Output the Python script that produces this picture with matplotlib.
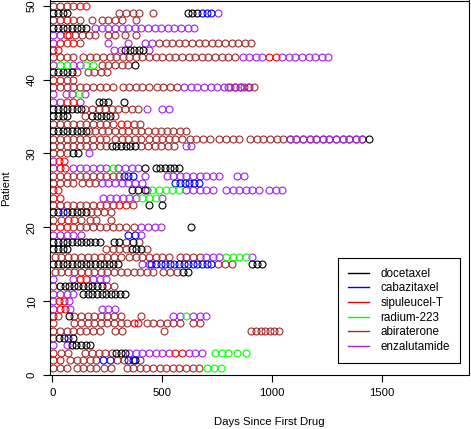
import matplotlib
matplotlib.use("Agg")
import matplotlib.pyplot as plt
from matplotlib.lines import Line2D

# drug names, their one-letter codes used in the visit strings, and colours
drugs = ["docetaxel", "cabazitaxel", "sipuleucel-T", "radium-223", "abiraterone", "enzalutamide"]
codes = ["d", "c", "s", "r", "a", "e"]
colors = ["black", "#0000FF", "#FF0000", "#00FF00", "#A52A2A", "#A020F0"]

# visits per patient (patient 1 first): "start_day:letters", one letter per visit,
# lowercase -> next visit 30 days later, uppercase -> next visit 21 days later
visits = [
    "5:aaa 110:aaaa 235:aa 338:aaaaaaaaaaaa 705:rrr",
    "5:ss 80:aaaaa 232:cc 295:aa 345:CC 375:d 400:a",
    "5:a 40:aa 150:aaaaa 290:DDD 350:eeeeeee 560:ss 620:eee 740:rrr 840:r 880:r",
    "5:e 65:e 88:DDDDD",
    "5:a 30:DDCD",
    "5:aaaaaaaa 285:aa 510:a 905:AAAAAAA",
    "5:a 100:aaaaaaaaa 370:SS 430:aaaaaa 640:aa",
    "5:Sa 75:d 100:aaaaaaaa 405:a 550:ee 610:r 640:eee",
    "5:e 35:SS 80:e 225:eee",
    "5:e 30:SS 75:e",
    "5:eeee 140:DDDDDDDDDD",
    "5:a 35:DDDDDDDDDD 250:aa",
    "5:e 95:e 125:ss 185:eee",
    "10:aaaaaaaaaaaaaaaa 505:aaa 595:DD",
    "5:DDDDDDDDDDDDDDD 410:ee 450:CCCCCCCCCCCCCC 755:aaa 910:DDD",
    "10:aaaaaaaaaaa 350:aaaaaaa 580:aaaa 700:eee 790:rrr 880:re",
    "5:DDDD 245:aaaa 360:DDD 430:a",
    "5:DDDDDDDDDDD 280:DD 335:a 365:d 395:a",
    "5:eeee 130:e 345:cce",
    "5:ass 95:aaaaaaaaa 370:a 405:eeee 630:d",
    "5:a 40:assa 170:aa 265:a",
    "5:DDCDDDDD 175:aaaa",
    "5:aaaaaaaaaa 305:ss 365:a 440:d 500:d",
    "5:ss 230:eeeeee 410:rrr 500:e",
    "5:SS 360:ddd 430:e 455:rrrrr 610:eeeee 790:eeeeee 985:eee",
    "5:aaaa 135:aaa 225:eeeeee 410:e 560:CCCCCC",
    "5:aaaaaaaaaaa 325:CCC 420:e 520:eeeeeeeee 840:ee",
    "5:e 35:SS 95:eeeeee 275:r 300:eeee 420:d 470:DDDDDD",
    "5:e 30:SS",
    "5:aa 65:a 95:DD 165:e",
    "5:aaaaaaaaa 270:DDDDDD 405:aaaaaa 610:EE",
    "5:aaaaaaaaa 285:aaaaa 440:aaaaaa 625:aaaa 760:aaaa 900:aaaaaaaaaaaaaaaaaa 1080:eeeeeeeeeeee 1440:d",
    "5:DDDDDDDD 165:aaaaaaaaaaaa 520:aaaa",
    "5:aaaaaaaaaa 310:ss 370:aa",
    "5:DDDD 150:a 180:DDDDD 285:a",
    "5:DDDDDDD 150:aaaaaaaaa 430:e 500:ee",
    "5:eesse 210:DDD 325:d",
    "5:e 60:eere",
    "5:aaaaaaaaaa 320:aaaaa 475:aaaa 600:eeeeeee 800:eeee 810:AAAAAA",
    "5:ss 65:aa",
    "5:DDDDD 110:a 160:aaaa",
    "5:erreerr 225:aaaaa 375:d",
    "5:aaaa 140:aaaaaaaaaaaaaaaaaaaaaaaa 865:eeee 985:ss 1045:eeeeeeee",
    "5:SS 280:ee 330:DDDDD 440:e",
    "5:esasa 255:e 345:e 420:e 455:e 485:aaaaaaaaaaaaaaa",
    "5:ees 75:aaaaa 255:aa 330:a 380:a",
    "5:DDDDDDDD 195:eeeeeeeeeeeeeeee",
    "5:assaa 180:a 225:aaaa 380:a",
    "5:DDDD 305:aaaa 460:a 615:DDD 680:CCC 755:e",
    "5:aaa 95:ass",
]
MONTH = 30
CYCLE = 21

plt.rcParams['font.family'] = ['Liberation Sans', 'DejaVu Sans']

xs = {c: [] for c in codes}
ys = {c: [] for c in codes}
for patient, row in enumerate(visits, start=1):
    for seg in row.split():
        start, letters = seg.split(":")
        day = float(start)
        for ch in letters:
            xs[ch.lower()].append(day)
            ys[ch.lower()].append(patient)
            day += CYCLE if ch.isupper() else MONTH

fig = plt.figure(figsize=(4.71, 4.29), dpi=100)
ax = fig.add_axes([50 / 471, 54 / 429, 418.5 / 471, 374.5 / 429])

order = ["a", "e", "d", "c", "s", "r"]
for c in order:
    i = codes.index(c)
    ax.plot(xs[c], ys[c], "o", mfc="none", mec=colors[i], ms=5.0, mew=0.8, ls="none")

ax.set_xlim(-10.5, 1892)
ax.set_ylim(0, 50.7)
ax.set_xticks([0, 500, 1000, 1500])
ax.set_yticks([0, 10, 20, 30, 40, 50])
ax.tick_params(direction="out", length=5, width=0.8, labelsize=8.2, pad=4.5)
for lab in ax.get_yticklabels():
    lab.set_rotation(90)
    lab.set_va("center")
for s in ax.spines.values():
    s.set_linewidth(0.8)
    s.set_color("black")

fig.text(269 / 471, 1 - 422 / 429, "Days Since First Drug", ha="center", va="center", fontsize=8.2)
fig.text(6 / 471, 1 - 188 / 429, "Patient", ha="center", va="center", rotation=90, fontsize=8.2)

handles = [Line2D([0], [0], color=col, lw=1.0) for col in colors]
leg = ax.legend(handles, drugs, loc="lower right", bbox_to_anchor=(0.98, 0.032),
                borderaxespad=0, fancybox=False, framealpha=1, edgecolor="black",
                fontsize=8.4, handlelength=1.8, handletextpad=1.0, labelspacing=0.23,
                borderpad=0.85)
leg.get_frame().set_linewidth(0.8)

fig.savefig("out.png", dpi=100)
